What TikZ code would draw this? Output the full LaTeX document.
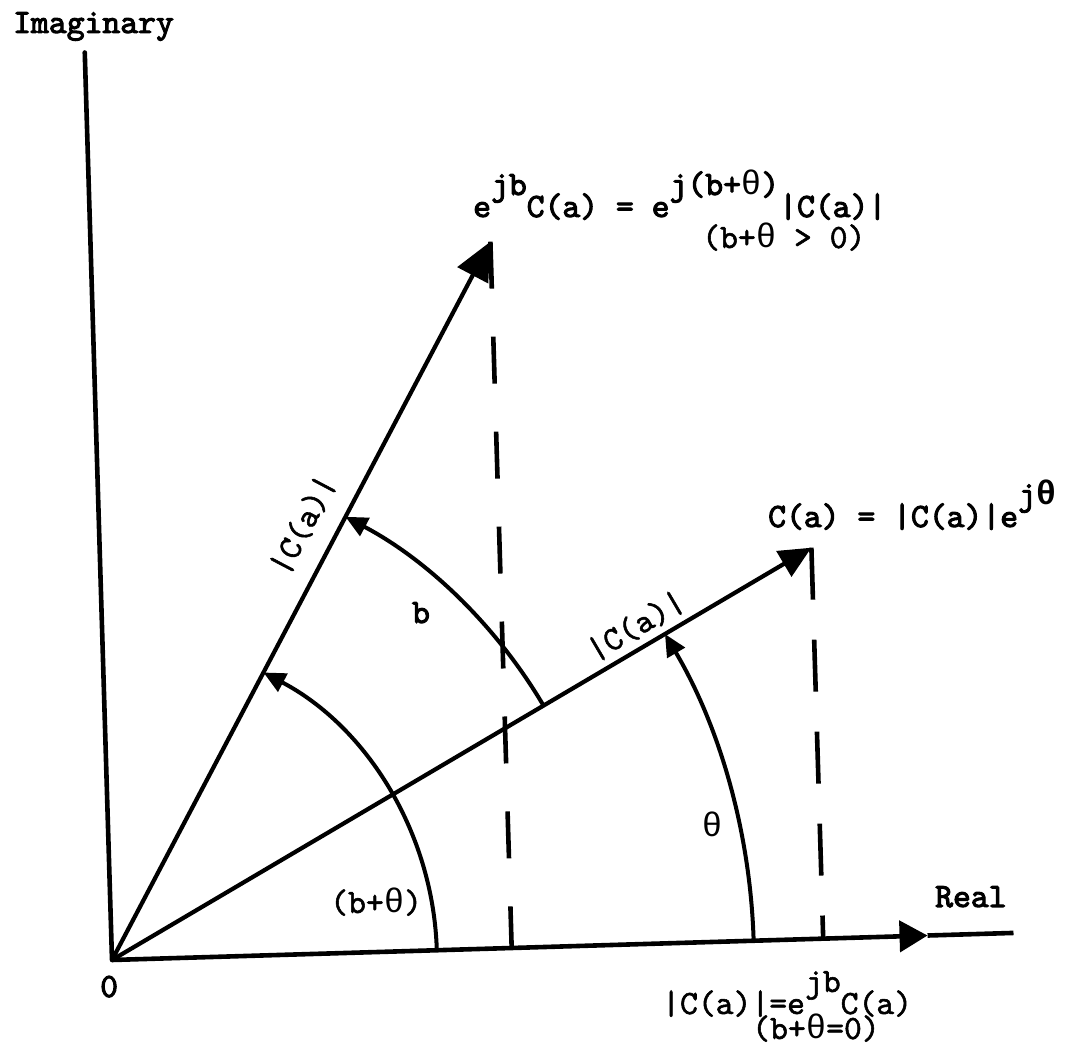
\documentclass[tikz,border=0pt]{standalone}
\usepackage{fontspec}
\setmainfont{Liberation Mono}
\newfontfamily\tw{lmmono10-regular.otf}[FakeBold=1.6]
\newfontfamily\twb{lmmono10-regular.otf}[FakeBold=3.0]
\newfontfamily\grr{Liberation Mono}
\usetikzlibrary{arrows.meta}
\newcommand{\sups}[1]{\raisebox{22pt}{#1}}
\newcommand{\tht}{{\grr θ}}
\newcommand{\thb}{{\grr\bfseries θ}}
\begin{document}
\begin{tikzpicture}[x=1pt,y=1pt,
  every node/.style={inner sep=0pt},
  lbl/.style={font=\tw\fontsize{34}{40}\selectfont},
  blbl/.style={font=\twb\fontsize{34}{40}\selectfont},
  axis/.style={line width=4.6pt},
  vec/.style={line width=4.2pt},
  arcl/.style={line width=4pt, -{Triangle[length=22pt,width=20pt]}},
  dashup/.style={line width=4.6pt, dash pattern=on 47pt off 48pt},
  dashlo/.style={line width=4.6pt, dash pattern=on 52pt off 40pt}]
\useasboundingbox (0,0) rectangle (1074,1048);
\begin{scope}[shift={(112,88)}, rotate=1.72]
  \coordinate (O) at (0,0);
  \coordinate (Re) at (902,0);
  \coordinate (Rt) at (816,0);
  \coordinate (Im) at (0,908);
  \coordinate (A) at (60.5:812);
  \coordinate (C) at (28.8:812);
  \coordinate (Af) at (399.9,0);
  \coordinate (Cf) at (711.6,0);
  \coordinate (bt0) at (0:325);
  \coordinate (b0) at (28.8:501);
  \coordinate (t0) at (0:642);
  \draw[axis, line cap=round] (Im) -- (O);
  \draw[axis, -{Triangle[length=28pt,width=31pt]}] (O) -- (Rt);
  \draw[axis] (Rt) -- (Re);
  \draw[vec, -{Triangle[length=38pt,width=34pt]}] (O) -- (A);
  \draw[vec, -{Triangle[length=32pt,width=29pt]}] (O) -- (C);
  \draw[dashup] (A) -- (Af);
  \draw[dashlo] (C) -- (Cf);
  \draw[arcl] (bt0) arc[start angle=0, end angle=60.5, radius=325];
  \draw[arcl] (b0) arc[start angle=28.8, end angle=60.5, radius=501];
  \draw[arcl] (t0) arc[start angle=0, end angle=28.8, radius=642];
\end{scope}
\node[blbl, anchor=base west] (imag) at (13,1015) {Imaginary};
\node[blbl, anchor=base west] (real) at (935,141) {Real};
\node[blbl, anchor=base west] (zero) at (100,51) {0};
\node[lbl, anchor=base west] (btl) at (330,135) {(b+\tht)};
\node[blbl, anchor=base] (bl) at (421,425) {b};
\node[lbl, anchor=base] (thl) at (712,211) {\tht};
\node[blbl, anchor=base west] (eqC) at (768,521) {C(a) = |C(a)|e\sups{j\thb}};
\node[lbl, anchor=base west] (eqB) at (662,34) {|C(a)|=e\sups{jb}C(a)};
\node[lbl, anchor=base west] (eqB2) at (752,9) {(b+\tht=0)};
\node[blbl, anchor=base west] (eqA) at (473,831) {e\sups{jb}C(a) = e\sups{j(b+\tht)}|C(a)|};
\node[lbl, anchor=base west] (eqA2) at (702,800) {(b+\tht{} > 0)};
\node[lbl, rotate=62.2] (m1) at (303,523) {|C(a)|};
\node[lbl, rotate=30.5] (m2) at (636,422) {|C(a)|};
\end{tikzpicture}
\end{document}
